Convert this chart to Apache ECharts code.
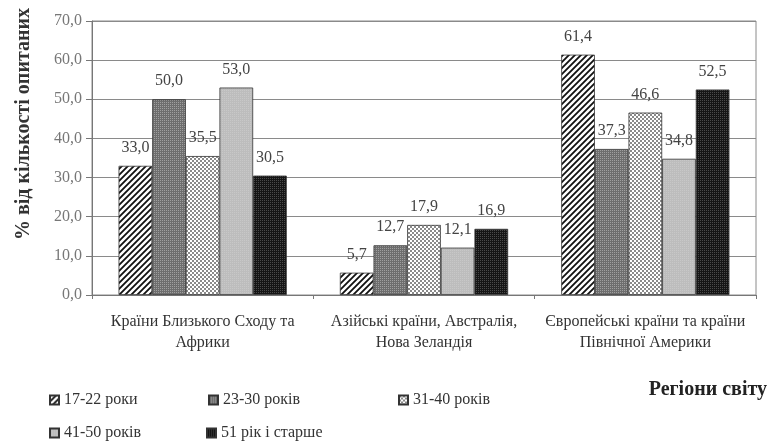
<!DOCTYPE html>
<html>
<head>
<meta charset="utf-8">
<script src="https://cdn.jsdelivr.net/npm/echarts@6/dist/echarts.min.js"></script>
<style>
  html, body { margin: 0; padding: 0; background: #fff; }
  #chart { width: 772px; height: 448px; }
</style>
</head>
<body>
<div id="chart"></div>
<script>
// Regions and age groups
const categories = [
  'Країни Близького Сходу та\nАфрики',
  'Азійські країни, Австралія,\nНова Зеландія',
  'Європейські країни та країни\nПівнічної Америки'
];
const seriesNames = ['17-22 роки', '23-30 років', '31-40 років', '41-50 років', '51 рік і старше'];
const age17_22 = [33.0, 5.7, 61.4];
const age23_30 = [50.0, 12.7, 37.3];
const age31_40 = [35.5, 17.9, 46.6];
const age41_50 = [53.0, 12.1, 34.8];
const age51plus = [30.5, 16.9, 52.5];
const yTicks = [0, 10, 20, 30, 40, 50, 60, 70];

const FONT = '"Liberation Serif", "DejaVu Serif", serif';

// Fill patterns drawn on small canvases
function tile(size, draw) {
  const c = document.createElement('canvas');
  c.width = size; c.height = size;
  const g = c.getContext('2d');
  draw(g, size);
  return { image: c, repeat: 'repeat' };
}
const hatch = tile(6, (g, s) => {
  g.fillStyle = '#fff'; g.fillRect(0, 0, s, s);
  g.strokeStyle = '#111'; g.lineWidth = 1.8;
  g.beginPath();
  g.moveTo(-1, s + 1); g.lineTo(s + 1, -1);
  g.moveTo(-1, 1); g.lineTo(1, -1);
  g.moveTo(s - 1, s + 1); g.lineTo(s + 1, s - 1);
  g.stroke();
});
const darkDots = tile(2, (g) => {
  g.fillStyle = '#6e6e6e'; g.fillRect(0, 0, 2, 2);
  g.fillStyle = '#a0a0a0'; g.fillRect(0, 0, 1, 1);
});
const checker = tile(4, (g) => {
  g.fillStyle = '#fff'; g.fillRect(0, 0, 4, 4);
  g.fillStyle = '#8a8a8a'; g.fillRect(0, 0, 2, 2); g.fillRect(2, 2, 2, 2);
});
const lightGray = tile(2, (g) => {
  g.fillStyle = '#bdbdbd'; g.fillRect(0, 0, 2, 2);
  g.fillStyle = '#c8c8c8'; g.fillRect(0, 0, 1, 1);
});
const blackDots = tile(2, (g) => {
  g.fillStyle = '#151515'; g.fillRect(0, 0, 2, 2);
  g.fillStyle = '#4a4a4a'; g.fillRect(0, 0, 1, 1);
});

const fills = [hatch, darkDots, checker, lightGray, blackDots];
const values = [age17_22, age23_30, age31_40, age41_50, age51plus];
const fmt = v => v.toFixed(1).replace('.', ',');

const series = seriesNames.map((name, i) => ({
  name: name,
  type: 'bar',
  data: values[i],
  barGap: '0%',
  barCategoryGap: '24%',
  itemStyle: { color: fills[i], borderColor: '#333', borderWidth: 0.8 },
  label: {
    show: true, position: 'top', distance: 10,
    formatter: p => fmt(p.value),
    fontFamily: FONT, fontSize: 16, color: '#444'
  }
}));

// Legend entries placed in two rows
const legendPos = [[49, 392], [208, 392], [398, 392], [49, 425], [206, 425]];
const legends = seriesNames.map((n, i) => ({
  data: [n],
  left: legendPos[i][0], top: legendPos[i][1],
  padding: 0,
  itemWidth: 9, itemHeight: 9, itemGap: 4,
  icon: 'rect',
  textStyle: { fontFamily: FONT, fontSize: 16, color: '#333' }
}));

const chart = echarts.init(document.getElementById('chart'), null, { renderer: 'canvas' });
chart.setOption({
  animation: false,
  backgroundColor: '#fff',
  grid: { left: 92, right: 16, top: 21, bottom: 153, show: true, borderColor: '#8a8a8a', borderWidth: 1 },
  legend: legends,
  xAxis: {
    type: 'category',
    data: categories,
    axisLine: { lineStyle: { color: '#777' } },
    axisTick: { show: true, length: 4, lineStyle: { color: '#777' } },
    axisLabel: { interval: 0, hideOverlap: false, fontFamily: FONT, fontSize: 16, color: '#333', lineHeight: 21, margin: 16 }
  },
  yAxis: {
    type: 'value',
    min: yTicks[0], max: yTicks[yTicks.length - 1], interval: 10,
    axisLine: { show: true, lineStyle: { color: '#777' } },
    axisTick: { show: true, length: 6, lineStyle: { color: '#777' } },
    splitLine: { lineStyle: { color: '#8a8a8a', width: 1 } },
    axisLabel: { fontFamily: FONT, fontSize: 16, color: '#777', margin: 10, formatter: v => fmt(v) }
  },
  graphic: [
    {
      type: 'text', x: 24, y: 124, rotation: Math.PI / 2,
      style: { text: '% від кількості опитаних', font: 'bold 20px ' + FONT, fill: '#333',
               textAlign: 'center', textVerticalAlign: 'middle' }
    },
    {
      type: 'text', x: 767, y: 390,
      style: { text: 'Регіони світу', font: 'bold 20px ' + FONT, fill: '#222',
               textAlign: 'right', textVerticalAlign: 'middle' }
    }
  ],
  series: series
});
</script>
</body>
</html>
